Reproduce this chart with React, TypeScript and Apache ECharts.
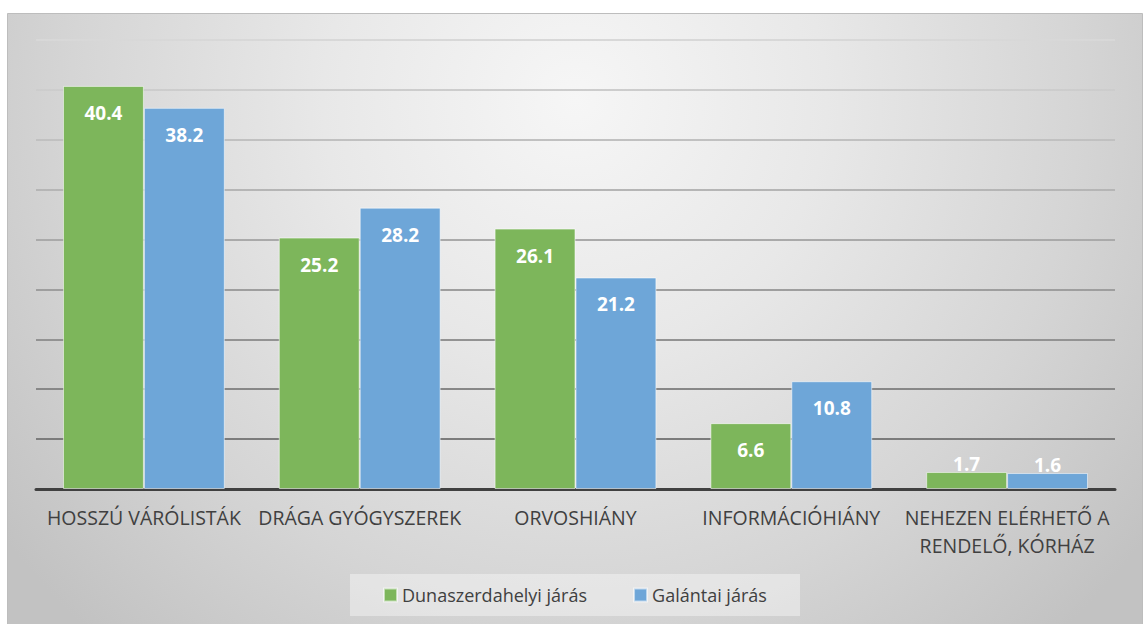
import React, { useEffect, useRef } from "react";
import * as echarts from "echarts";

const categories = [
  "HOSSZÚ VÁRÓLISTÁK",
  "DRÁGA GYÓGYSZEREK",
  "ORVOSHIÁNY",
  "INFORMÁCIÓHIÁNY",
  "NEHEZEN ELÉRHETŐ A\nRENDELŐ, KÓRHÁZ",
];
const seriesNames = ["Dunaszerdahelyi járás", "Galántai járás"];
const dunaszerdahelyi = [40.4, 25.2, 26.1, 6.6, 1.7];
const galantai = [38.2, 28.2, 21.2, 10.8, 1.6];
const colors = ["#7db65b", "#6ea6d8"];

const W = 1145;
const H = 624;

function makeData(values: number[]) {
  return values.map((v) =>
    v < 4
      ? { value: v, label: { position: "top", distance: -3 } }
      : { value: v }
  );
}

export default function App() {
  const ref = useRef<HTMLDivElement>(null);
  useEffect(() => {
    if (!ref.current) return;
    const chart = echarts.init(ref.current, undefined, { renderer: "svg" });
    const labelStyle = {
      show: true,
      position: "insideTop",
      distance: 16,
      color: "#ffffff",
      fontFamily: "Open Sans",
      fontWeight: "bold",
      fontSize: 19,
      lineHeight: 22,
    };
    chart.setOption({
      animation: false,
      graphic: [
        {
          type: "rect",
          z: -10,
          silent: true,
          shape: { x: 7.5, y: 13.5, width: 1135, height: 620 },
          style: {
            fill: new echarts.graphic.RadialGradient(575, 100, 720, [
              { offset: 0, color: "#f6f6f6" },
              { offset: 0.35, color: "#e8e8e8" },
              { offset: 0.7, color: "#d5d5d5" },
              { offset: 1, color: "#c2c2c2" },
            ], true),
            stroke: "#bdbdbd",
            lineWidth: 1,
          },
        },
        {
          type: "rect",
          z: -5,
          silent: true,
          shape: { x: 350, y: 574, width: 450, height: 42 },
          style: { fill: "rgba(255,255,255,0.38)" },
        },
      ],
      grid: { left: 36, right: 30, top: 40, bottom: 135, containLabel: false },
      legend: {
        data: seriesNames,
        left: 383,
        top: 585,
        padding: 0,
        itemWidth: 13,
        itemHeight: 13,
        itemGap: 46,
        icon: "rect",
        textStyle: {
          color: "#404040",
          fontSize: 18,
          lineHeight: 20,
          fontFamily: "Open Sans",
        },
      },
      xAxis: {
        type: "category",
        data: categories,
        axisLine: { show: true, lineStyle: { color: "#404040", width: 3 } },
        axisTick: { show: false },
        axisLabel: {
          color: "#404040",
          fontSize: 19.5,
          fontFamily: "Open Sans",
          margin: 14,
          lineHeight: 28,
          interval: 0,
        },
      },
      yAxis: {
        type: "value",
        min: 0,
        max: 45,
        interval: 5,
        axisLabel: { show: false },
        axisLine: { show: false },
        axisTick: { show: false },
        splitLine: {
          show: true,
          lineStyle: {
            width: 2,
            color: new echarts.graphic.LinearGradient(0, 40, 0, 490, [
              { offset: 0, color: "#d8d8d8" },
              { offset: 1, color: "#707070" },
            ], true),
          },
        },
      },
      series: [
        {
          name: seriesNames[0],
          type: "bar",
          data: makeData(dunaszerdahelyi),
          barGap: "0%",
          barCategoryGap: "25%",
          itemStyle: {
            color: colors[0],
            borderColor: "rgba(255,255,255,0.55)",
            borderWidth: 1,
          },
          label: labelStyle,
        },
        {
          name: seriesNames[1],
          type: "bar",
          data: makeData(galantai),
          barGap: "0%",
          barCategoryGap: "25%",
          itemStyle: {
            color: colors[1],
            borderColor: "rgba(255,255,255,0.55)",
            borderWidth: 1,
          },
          label: labelStyle,
        },
      ],
    });
    return () => chart.dispose();
  }, []);
  return (
    <div
      ref={ref}
      style={{ position: "fixed", left: 0, top: 0, width: W, height: H, background: "#ffffff" }}
    />
  );
}
